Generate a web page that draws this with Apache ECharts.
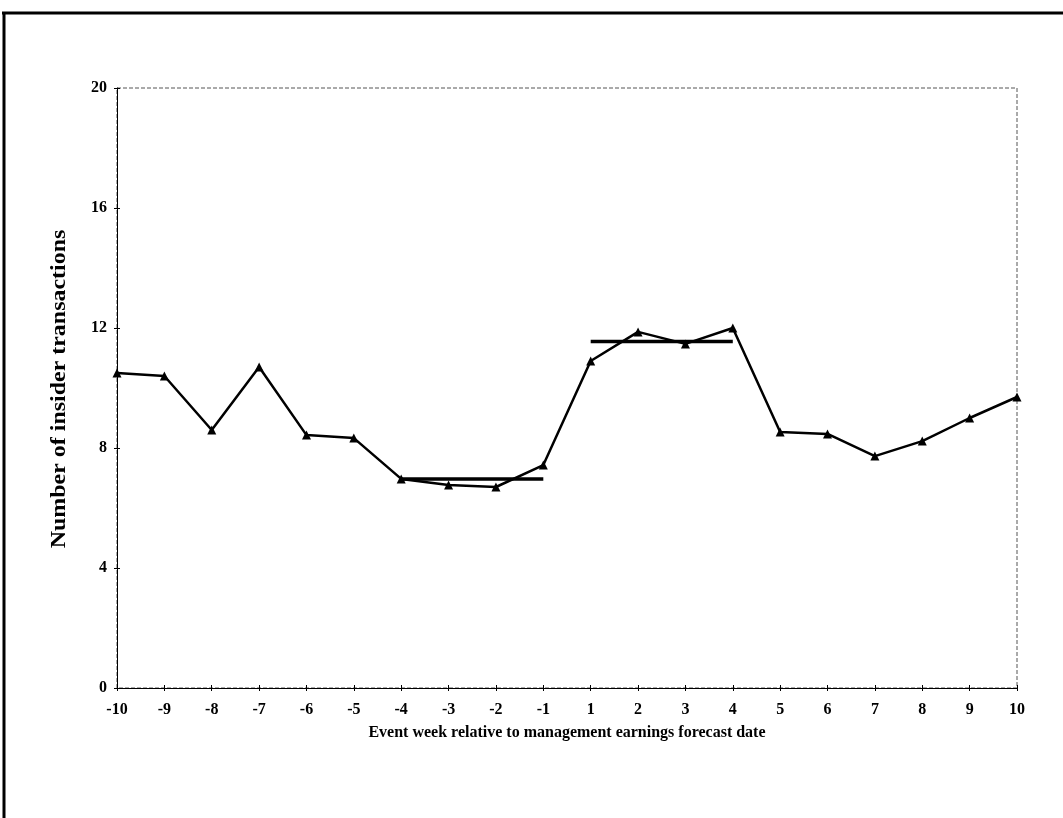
<!DOCTYPE html>
<html>
<head>
<meta charset="utf-8">
<script src="https://cdn.jsdelivr.net/npm/echarts@6/dist/echarts.min.js"></script>
<style>
  html, body { margin: 0; padding: 0; background: #fff; }
  #chart { width: 1063px; height: 818px; }
</style>
</head>
<body>
<div id="chart"></div>
<script>
// Event weeks around the management earnings forecast date
const weeks = ['-10','-9','-8','-7','-6','-5','-4','-3','-2','-1','1','2','3','4','5','6','7','8','9','10'];
// Weekly number of insider transactions
const transactions = [10.5, 10.4, 8.6, 10.7, 8.43, 8.33, 6.97, 6.77, 6.7, 7.43,
                      10.9, 11.87, 11.47, 12.0, 8.53, 8.47, 7.73, 8.23, 9.0, 9.7];
// Average level over weeks -4..-1 and 1..4
const preMean = 6.97;
const postMean = 11.55;
const preWeeks = ['-4','-3','-2','-1'];
const postWeeks = ['1','2','3','4'];
const yTicks = [0, 4, 8, 12, 16, 20];
const yTitle = 'Number of insider transactions';
const xTitle = 'Event week relative to management earnings forecast date';

const meanLine = (wks, v) => weeks.map(w => wks.includes(w) ? v : null);

const font = 'Liberation Serif, Times New Roman, serif';
const chart = echarts.init(document.getElementById('chart'));

chart.setOption({
  backgroundColor: '#fff',
  animation: false,
  grid: {
    left: 117, right: 46, top: 88, bottom: 130,
    show: true, borderColor: '#555', borderWidth: 1, borderType: [4, 2]
  },
  xAxis: [{
    type: 'category', data: weeks, boundaryGap: false,
    name: xTitle,
    nameLocation: 'middle', nameGap: 37,
    nameTextStyle: { fontFamily: font, fontWeight: 'bold', fontSize: 16, color: '#000' },
    axisLine: { lineStyle: { color: '#000', width: 1 } },
    axisTick: { length: 3, lineStyle: { color: '#000' } },
    axisLabel: { fontFamily: font, fontWeight: 'bold', fontSize: 16, color: '#000', margin: 14 },
    splitLine: { show: false }
  }, {
    type: 'category', data: weeks, boundaryGap: false, position: 'bottom',
    axisLine: { show: false },
    axisTick: { inside: true, length: 3, lineStyle: { color: '#000' } },
    axisLabel: { show: false }, splitLine: { show: false }
  }],
  yAxis: [{
    type: 'value', min: yTicks[0], max: yTicks[yTicks.length - 1], interval: 4,
    axisLine: { show: true, lineStyle: { color: '#000', width: 1 } },
    axisTick: { show: true, length: 3, lineStyle: { color: '#000' } },
    axisLabel: { fontFamily: font, fontWeight: 'bold', fontSize: 16, color: '#000', margin: 10 },
    splitLine: { show: false }
  }, {
    type: 'value', min: yTicks[0], max: yTicks[yTicks.length - 1], interval: 4, position: 'left',
    axisLine: { show: false },
    axisTick: { show: true, inside: true, length: 3, lineStyle: { color: '#000' } },
    axisLabel: { show: false }, splitLine: { show: false }
  }],
  series: [{
    type: 'line', data: transactions,
    symbol: 'triangle', symbolSize: 9, showAllSymbol: true,
    lineStyle: { color: '#000', width: 2.5 },
    itemStyle: { color: '#000' }
  }, {
    type: 'line', data: meanLine(preWeeks, preMean), symbol: 'none',
    lineStyle: { color: '#000', width: 3.5 }
  }, {
    type: 'line', data: meanLine(postWeeks, postMean), symbol: 'none',
    lineStyle: { color: '#000', width: 3.5 }
  }],
  graphic: [
    // outer frame (top and left edges)
    { type: 'line', shape: { x1: 2, y1: 13, x2: 1063, y2: 13 }, style: { stroke: '#000', lineWidth: 3 } },
    { type: 'line', shape: { x1: 4, y1: 12, x2: 4, y2: 818 }, style: { stroke: '#000', lineWidth: 3 } },
    // vertical axis title, slightly condensed lettering
    {
      type: 'text', x: 60, y: 389, rotation: Math.PI / 2, scaleX: 1.14,
      style: {
        text: yTitle, align: 'center', verticalAlign: 'middle',
        font: 'bold 21px ' + font, fill: '#000'
      }
    }
  ]
});
</script>
</body>
</html>
